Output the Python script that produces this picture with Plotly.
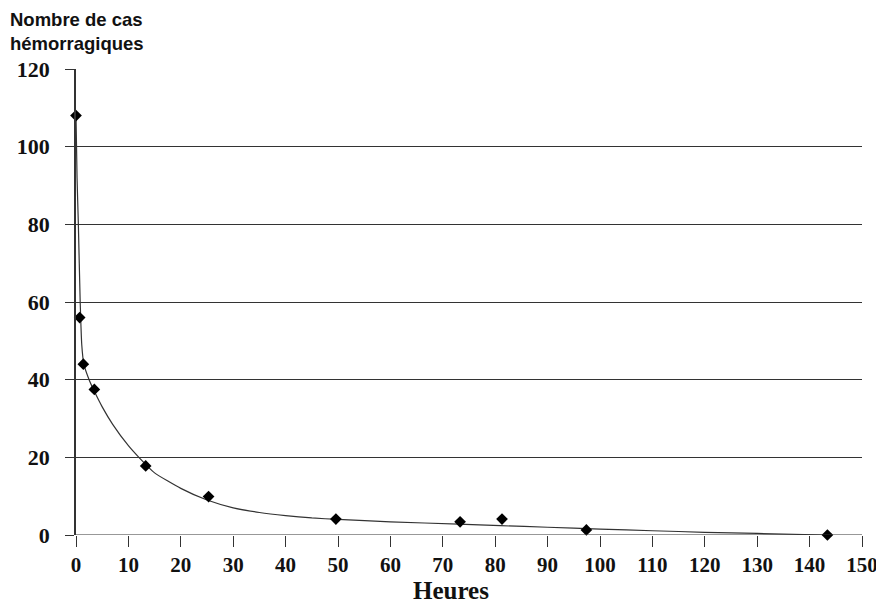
import plotly.graph_objects as go

# Observed data points
hours = [0, 0.7, 1.4, 3.5, 13.3, 25.3, 49.6, 73.3, 81.3, 97.4, 143.4]
cases = [108, 56, 44, 37.5, 17.8, 9.9, 4.1, 3.4, 4.1, 1.3, 0]

# Trend curve
curve_x = [0, 0.2, 0.45, 0.8, 1.1, 1.5, 2.5, 3.5, 5, 7, 10, 12, 15, 20, 25, 30, 35, 40, 45, 50,
           60, 73, 81, 90, 100, 110, 120, 130, 143]
curve_y = [108, 92, 80, 60, 49, 44, 40, 37, 33, 28.5, 23, 20, 16, 12, 9, 7, 5.8, 5, 4.4, 4,
           3.4, 2.8, 2.4, 2.0, 1.5, 1.1, 0.7, 0.4, 0]

x_ticks = list(range(0, 151, 10))
y_ticks = list(range(0, 121, 20))

fig = go.Figure()
fig.add_trace(go.Scatter(x=curve_x, y=curve_y, mode="lines",
                         line=dict(color="#333333", width=1.2, shape="spline", smoothing=0.5),
                         hoverinfo="skip", cliponaxis=False))
fig.add_trace(go.Scatter(x=hours, y=cases, mode="markers",
                         marker=dict(symbol="diamond", size=9, color="black"),
                         cliponaxis=False))

serif = "Liberation Serif, Times New Roman, serif"
L, R, T, B = 68, 30, 61, 76
PW, PH = 884 - L - R, 603 - T - B
fig.update_layout(
    width=884, height=603,
    margin=dict(l=L, r=R, t=T, b=B),
    paper_bgcolor="white", plot_bgcolor="white",
    showlegend=False,
    xaxis=dict(range=[0, 150], tickvals=x_ticks, showgrid=False, zeroline=False, automargin=False,
               showline=False, ticks="outside", ticklen=11, tickcolor="#333333", tickwidth=1.2,
               tickfont=dict(family=serif, size=21, color="#111111", weight="bold"),
               ticklabelstandoff=0),
    yaxis=dict(range=[0, 120], tickvals=y_ticks, showgrid=True, gridcolor="#333333", gridwidth=1,
               zeroline=False, showline=True, linecolor="#333333", linewidth=1.5, automargin=False,
               ticks="outside", ticklen=9, tickcolor="#333333", tickwidth=1.2,
               tickfont=dict(family=serif, size=22, color="#111111", weight="bold"),
               ticklabelstandoff=11),
    shapes=[dict(type="line", xref="paper", yref="y", x0=0, x1=1, y0=0, y1=0,
                 line=dict(color="#333333", width=1.2))],
    annotations=[
        dict(text="<b>Nombre de cas<br>hémorragiques</b>", xref="paper", yref="paper",
             x=-L / PW, y=1 + (T + 1) / PH, xanchor="left", yanchor="top", align="left",
             showarrow=False,
             font=dict(family="Liberation Sans, Arial, sans-serif", size=18.5, color="#111111")),
        dict(text="<b>Heures</b>", xref="x", yref="paper", x=71.5, y=-55 / PH,
             xanchor="center", yanchor="middle", showarrow=False,
             font=dict(family=serif, size=25, color="#111111")),
    ],
)

fig.write_html("out.html")
